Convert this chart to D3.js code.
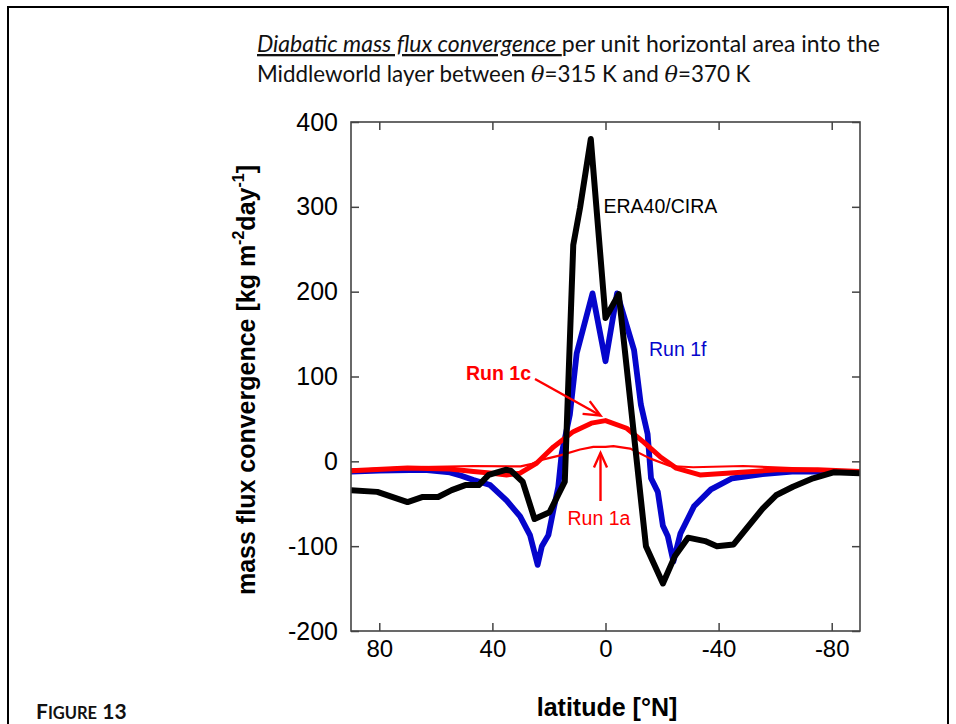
<!DOCTYPE html>
<html>
<head>
<meta charset="utf-8">
<script src="https://cdn.jsdelivr.net/npm/d3@7"></script>
<style>
  body { margin: 0; background: #fff; }
  svg { display: block; }
</style>
</head>
<body>
<div id="canvas"></div>
<script>
// ERA40/CIRA (black)
var eraLat = [90, 80.7, 70, 64.6, 59.2, 54.4, 49.6, 44.8, 41.3, 35.3, 33.5, 29.3, 25.1, 19.8, 14.4, 11.4, 9, 5.2, 0, -4.7, -14.3, -20.3, -24.5, -29.2, -35.2, -39.4, -45.3, -55.5, -60.3, -66.3, -73.4, -80.6, -90];
var eraVal = [-34, -36, -48, -42, -42, -34, -28, -28, -16, -10, -11, -24, -68, -60, -24, 255, 299, 380, 169, 197, -100, -144, -112, -90, -94, -100, -98, -56, -40, -30, -20, -13, -14];

// Run 1f (blue)
var run1fLat = [90, 80, 64, 55, 51, 46.7, 40.8, 35, 30.2, 26.7, 24, 22.5, 20.2, 18.4, 16.7, 15.5, 12.6, 10.2, 4.6, 0, -4.1, -10.1, -12.5, -14.9, -16.1, -18.5, -20.3, -22, -24, -26.5, -31.3, -37.3, -44.8, -55.5, -66, -75, -90];
var run1fVal = [-12, -11, -10, -13, -17, -22, -28, -46, -65, -87, -122, -100, -87, -57, -30, 9, 55, 127, 198, 118, 198, 131, 67, 32, -20, -36, -76, -88, -118, -85, -53, -33, -20, -15, -12, -12, -13];

// Run 1c (red, thick)
var run1cLat = [90, 70, 55, 46.7, 40, 35, 30.2, 24.3, 18.4, 11.4, 5, 0, -7.5, -13.4, -19.3, -25, -33.4, -42.8, -60.5, -75, -90];
var run1cVal = [-11, -8, -9, -12, -14, -16, -14, -2, 17, 35, 45, 48, 39, 23, 5.5, -8, -16, -14, -10, -10, -12];

// Run 1a (red, thin)
var run1aLat = [90, 70, 46.7, 30, 26, 23, 16, 9, 4.3, 0, -2.8, -8.7, -15.7, -22.8, -31, -48.7, -66, -80, -90];
var run1aVal = [-10, -7, -5.5, -6, -3, 1.5, 7, 14, 17, 17, 18, 15, 3.5, -5.5, -7, -5.5, -8, -10, -12];

var xTicks = [80, 40, 0, -40, -80];
var yTicks = [400, 300, 200, 100, 0, -100, -200];

(function () {
  var W = 956, H = 724;
  var pL = 351, pR = 860, pT = 122, pB = 631;

  var svg = d3.select('#canvas').append('svg')
    .attr('width', W)
    .attr('height', H);

  // slide border
  svg.append('path')
    .attr('d', 'M8,' + H + ' V7 H948 V' + H)
    .attr('fill', 'none')
    .attr('stroke', '#000')
    .attr('stroke-width', 2);

  // title
  var title = svg.append('g').attr('font-family', 'Lato, "Open Sans", sans-serif').attr('fill', '#111');
  var t1 = title.append('text').attr('x', 257).attr('y', 52).attr('font-size', 20);
  t1.append('tspan').attr('font-style', 'italic').attr('text-decoration', 'underline').text('Diabatic mass flux convergence ');
  t1.append('tspan').text('per unit horizontal area into the');
  var t2 = title.append('text').attr('x', 257).attr('y', 82).attr('font-size', 20);
  t2.append('tspan').text('Middleworld layer between ');
  t2.append('tspan').attr('font-style', 'italic').attr('font-family', '"DejaVu Serif", serif').text('θ');
  t2.append('tspan').text('=315 K and ');
  t2.append('tspan').attr('font-style', 'italic').attr('font-family', '"DejaVu Serif", serif').text('θ');
  t2.append('tspan').text('=370 K');
  // fit the lines to their widths in the picture (second line a compromise)
  var fs1 = 20 * 623 / t1.node().getComputedTextLength();
  var fs2 = 20 * 480 / t2.node().getComputedTextLength();
  t1.attr('font-size', fs1);
  t2.attr('font-size', (fs1 + fs2) / 2);

  // figure caption
  var cap = svg.append('text').attr('x', 36).attr('y', 719)
    .attr('font-family', 'Lato, "Open Sans", sans-serif').attr('font-weight', 'bold').attr('fill', '#111');
  cap.append('tspan').attr('font-size', 21).text('F');
  cap.append('tspan').attr('font-size', 16.5).text('IGURE');
  cap.append('tspan').attr('font-size', 21).text(' 13');

  var x = d3.scaleLinear().domain([90, -90]).range([pL, pR]);
  var y = d3.scaleLinear().domain([-200, 400]).range([pB, pT]);

  var frameColor = '#444';
  var font = '"Liberation Sans", Arial, Helvetica, sans-serif';
  var fmt = function (d) { return String(d); };

  var gx = svg.append('g').attr('transform', 'translate(0,' + pB + ')')
    .call(d3.axisBottom(x).tickValues(xTicks).tickSize(-8).tickPadding(9).tickFormat(fmt));
  var gy = svg.append('g').attr('transform', 'translate(' + pL + ',0)')
    .call(d3.axisLeft(y).tickValues(yTicks).tickSize(-8).tickPadding(13).tickFormat(fmt));
  var gxt = svg.append('g').attr('transform', 'translate(0,' + pT + ')')
    .call(d3.axisTop(x).tickValues(xTicks).tickSize(-8).tickFormat(''));
  var gyr = svg.append('g').attr('transform', 'translate(' + pR + ',0)')
    .call(d3.axisRight(y).tickValues(yTicks).tickSize(-8).tickFormat(''));

  [gx, gy, gxt, gyr].forEach(function (g) {
    g.select('.domain').remove();
    g.selectAll('line').attr('stroke', frameColor).attr('stroke-width', 1.5);
    g.selectAll('text').attr('font-family', font).attr('font-size', 24).attr('fill', '#000');
  });
  gy.selectAll('text').attr('font-size', 25);

  // lines
  var line = d3.line()
    .x(function (d) { return x(d[0]); })
    .y(function (d) { return y(d[1]); });

  svg.append('clipPath').attr('id', 'plotclip')
    .append('rect').attr('x', pL).attr('y', pT).attr('width', pR - pL).attr('height', pB - pT);

  var plot = svg.append('g').attr('clip-path', 'url(#plotclip)');

  var series = [
    { lat: run1fLat, val: run1fVal, c: '#0505cc', w: 5.8 },
    { lat: run1aLat, val: run1aVal, c: '#ff0000', w: 2.2 },
    { lat: run1cLat, val: run1cVal, c: '#ff0000', w: 5 },
    { lat: eraLat, val: eraVal, c: '#000000', w: 6 }
  ];
  series.forEach(function (s) {
    var pts = s.lat.map(function (la, i) { return [la, s.val[i]]; });
    plot.append('path')
      .attr('d', line(pts))
      .attr('fill', 'none')
      .attr('stroke', s.c)
      .attr('stroke-width', s.w)
      .attr('stroke-linejoin', 'round');
  });

  // frame
  svg.append('rect')
    .attr('x', pL).attr('y', pT)
    .attr('width', pR - pL).attr('height', pB - pT)
    .attr('fill', 'none').attr('stroke', frameColor).attr('stroke-width', 1.6);

  // annotations
  svg.append('text').attr('x', 603.5).attr('y', 213)
    .attr('font-family', font).attr('font-size', 19.5).attr('fill', '#000').text('ERA40/CIRA');
  svg.append('text').attr('x', 649).attr('y', 356)
    .attr('font-family', font).attr('font-size', 19.5).attr('fill', '#0505cc').text('Run 1f');
  svg.append('text').attr('x', 466).attr('y', 380)
    .attr('font-family', font).attr('font-size', 19.5).attr('font-weight', 'bold').attr('fill', '#ff0000').text('Run 1c');
  svg.append('text').attr('x', 567.5).attr('y', 525)
    .attr('font-family', font).attr('font-size', 19.5).attr('fill', '#ff0000').text('Run 1a');

  function arrow(x1, y1, x2, y2, head) {
    var a = Math.atan2(y2 - y1, x2 - x1);
    var g = svg.append('g').attr('stroke', '#ff0000').attr('stroke-width', 2.4).attr('fill', 'none');
    g.append('line').attr('x1', x1).attr('y1', y1).attr('x2', x2).attr('y2', y2);
    var s = 0.42;
    g.append('path').attr('d',
      'M' + (x2 - head * Math.cos(a - s)) + ',' + (y2 - head * Math.sin(a - s)) +
      ' L' + x2 + ',' + y2 +
      ' L' + (x2 - head * Math.cos(a + s)) + ',' + (y2 - head * Math.sin(a + s)));
  }
  // Run 1c -> thick curve, Run 1a -> thin curve
  arrow(535, 379, x(0) - 5, y(54), 18);
  arrow(x(0) - 5, 501, x(0) - 5, y(10), 16);

  // axis titles
  svg.append('text')
    .attr('transform', 'translate(607,716)')
    .attr('text-anchor', 'middle')
    .attr('font-family', font).attr('font-size', 25).attr('font-weight', 'bold')
    .text('latitude [°N]');

  var yl = svg.append('text')
    .attr('transform', 'translate(255,380) rotate(-90)')
    .attr('text-anchor', 'middle')
    .attr('font-family', font).attr('font-size', 25).attr('font-weight', 'bold');
  yl.append('tspan').text('mass flux convergence [kg m');
  yl.append('tspan').attr('font-size', 16).attr('dy', -11).text('-2');
  yl.append('tspan').attr('dy', 11).text('day');
  yl.append('tspan').attr('font-size', 16).attr('dy', -11).text('-1');
  yl.append('tspan').attr('dy', 11).text(']');
})();
</script>
</body>
</html>
